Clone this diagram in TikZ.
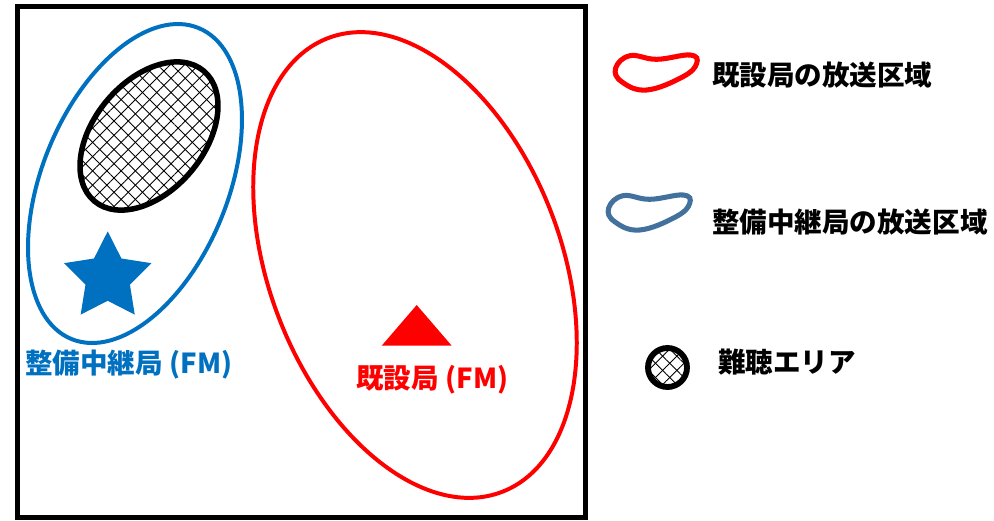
\documentclass[tikz,border=0pt]{standalone}
\usepackage{fontspec}
\newfontfamily\jpfont{Noto Sans CJK JP}
\usetikzlibrary{shapes.geometric,patterns.meta}
\definecolor{fmblue}{HTML}{0070C0}
\definecolor{fmred}{HTML}{FF0000}
\definecolor{areablue}{HTML}{41719C}
\tikzset{
  lbl/.style={font=\jpfont\bfseries\fontsize{23.5}{28}\selectfont, inner sep=0pt, anchor=west},
  hatchup/.style={pattern={Lines[angle=45,distance=8.6pt,line width=0.8pt]}},
  hatchdown/.style={pattern={Lines[angle=-45,distance=8.6pt,line width=0.8pt]}},
  blob/.pic={\draw[line width=4.3pt] plot[smooth cycle, tension=0.7] coordinates {(-40.3,4) (-26,16.3) (0.7,12.7) (34,17) (40.7,8.7) (27,-4.7) (-9.3,-18) (-34.3,-9.7)};},
}

\begin{document}
\begin{tikzpicture}[x=0.03cm,y=0.03cm]
\useasboundingbox (0,0) rectangle (994,-520);
\draw[line width=4.3pt] (17.5,-6.5) rectangle (585.5,-517.5);
\coordinate (relayarea) at (135,-183.5);
\coordinate (stationarea) at (415,-265);
\coordinate (noise) at (149,-136);
\draw[fmblue, line width=3.4pt, rotate around={67.8:(relayarea)}] (relayarea) ellipse [x radius=168, y radius=93];
\draw[fmred, line width=3.4pt, rotate around={111:(stationarea)}] (stationarea) ellipse [x radius=243, y radius=146];
\path[hatchup, rotate around={50:(noise)}] (noise) ellipse [x radius=85, y radius=55];
\path[hatchdown, rotate around={50:(noise)}] (noise) ellipse [x radius=85, y radius=55];
\draw[line width=4.7pt, rotate around={50:(noise)}] (noise) ellipse [x radius=85, y radius=55];
\node[star, star points=5, star point ratio=1.97, fill=fmblue, inner sep=0pt, minimum size=2.76cm] (relay) at (107.7,-277.4) {};
\fill[fmred] (416.7,-305) coordinate (station) -- (451.7,-345.7) -- (381.7,-345.7) -- cycle;
\node[lbl, text=fmblue] (relaylabel) at (25,-365) {整備中継局\hspace{0.25em}(FM)};
\node[lbl, text=fmred] (stationlabel) at (356,-380) {既設局\hspace{0.25em}(FM)};
\pic[fmred] at (656,-72) {blob};
\pic[areablue] at (649,-212) {blob};
\node[lbl] (legred) at (712,-75) {既設局の放送区域};
\node[lbl] (legblue) at (712,-222) {整備中継局の放送区域};
\coordinate (legnoise) at (667.5,-367.5);
\path[hatchup] (legnoise) circle [radius=19.5];
\path[hatchdown] (legnoise) circle [radius=19.5];
\draw[line width=5pt] (legnoise) circle [radius=19.5];
\node[lbl] (legnoiselabel) at (718,-362) {難聴エリア};
\end{tikzpicture}
\end{document}
